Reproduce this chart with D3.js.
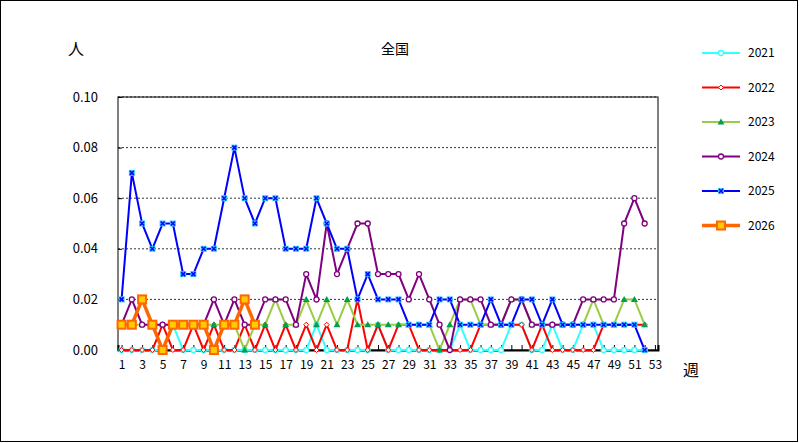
<!DOCTYPE html>
<html><head><meta charset="utf-8">
<script src="https://cdn.jsdelivr.net/npm/d3@7"></script>
<style>body{margin:0;background:#fff}text{font-family:"Noto Sans CJK JP",sans-serif;font-size:13px}</style>
</head><body><svg id="c" width="799" height="443"></svg>
<script>
var weeks = d3.range(1, 54);
var yTicks = [0, 0.02, 0.04, 0.06, 0.08, 0.10];
var s2021 = [0,0,0,0,0,0.01,0,0,0,0,0,0,0,0,0,0,0,0,0,0.01,0,0,0,0,0,0.01,0,0,0,0,0,0,0,0.01,0,0,0,0,0.01,0.01,0,0,0.01,0,0,0.01,0.01,0,0,0,0,0];
var s2022 = [0,0,0,0,0.01,0,0,0.01,0,0.01,0,0,0.01,0,0.01,0,0.01,0,0.01,0,0.01,0,0,0.02,0,0.01,0,0.01,0.01,0,0,0,0,0,0,0.01,0.01,0.01,0.01,0.01,0,0.01,0,0,0,0,0,0.01,0.01,0.01,0.01,0.01];
var s2023 = [0.01,0.01,0.01,0.01,0.01,0.01,0.01,0.01,0.01,0.01,0.01,0.01,0,0.01,0.01,0.02,0.01,0.01,0.02,0.01,0.02,0.01,0.02,0.01,0.01,0.01,0.01,0.01,0.01,0.01,0.01,0,0.01,0.02,0.02,0.01,0.01,0.01,0.02,0.02,0.01,0.01,0.01,0.01,0.01,0.01,0.02,0.01,0.01,0.02,0.02,0.01];
var s2024 = [0.01,0.02,0.01,0.01,0.01,0.01,0.01,0.01,0.01,0.02,0.01,0.02,0.01,0.01,0.02,0.02,0.02,0.01,0.03,0.02,0.05,0.03,0.04,0.05,0.05,0.03,0.03,0.03,0.02,0.03,0.02,0.01,0,0.02,0.02,0.02,0.01,0.01,0.02,0.02,0.01,0.01,0.01,0.01,0.01,0.02,0.02,0.02,0.02,0.05,0.06,0.05];
var s2025 = [0.02,0.07,0.05,0.04,0.05,0.05,0.03,0.03,0.04,0.04,0.06,0.08,0.06,0.05,0.06,0.06,0.04,0.04,0.04,0.06,0.05,0.04,0.04,0.02,0.03,0.02,0.02,0.02,0.01,0.01,0.01,0.02,0.02,0.01,0.01,0.01,0.02,0.01,0.01,0.02,0.02,0.01,0.02,0.01,0.01,0.01,0.01,0.01,0.01,0.01,0.01,0];
var s2026 = [0.01,0.01,0.02,0.01,0,0.01,0.01,0.01,0.01,0,0.01,0.01,0.02,0.01];
var series = [
  {name:"2021", v:s2021, c:"#33ffff", m:"circle", w:2},
  {name:"2022", v:s2022, c:"#ff0000", m:"diamond", w:2},
  {name:"2023", v:s2023, c:"#99cc44", m:"triangle", w:2},
  {name:"2024", v:s2024, c:"#800080", m:"circle", w:2},
  {name:"2025", v:s2025, c:"#0000ff", m:"cross", w:2},
  {name:"2026", v:s2026, c:"#ff6600", m:"square", w:3.5}
];

var svg = d3.select("#c");
svg.append("rect").attr("x",0.5).attr("y",0.5).attr("width",797).attr("height",441).attr("fill","#fff").attr("stroke","#000");
var x = d3.scaleLinear().domain([0.65, 53.3]).range([118, 658]);
var y = d3.scaleLinear().domain([0, 0.1]).range([350, 97]);

svg.append("g").selectAll("line").data(yTicks.slice(1)).join("line")
  .attr("x1",118).attr("x2",658).attr("y1",d=>y(d)).attr("y2",d=>y(d))
  .attr("stroke","#000").attr("stroke-dasharray","2,2").attr("stroke-width",0.8);
svg.append("rect").attr("x",118).attr("y",97).attr("width",540).attr("height",253).attr("fill","none").attr("stroke","#000");
svg.append("g").attr("transform","translate(118,0)")
  .call(d3.axisLeft(y).tickValues(yTicks).tickFormat(d3.format(".2f")).tickSize(-4))
  .call(g=>{g.select(".domain").remove();g.selectAll("text").attr("x",-20).style("font-size","13px");});
var xa = svg.append("g").attr("transform","translate(0,350)")
  .call(d3.axisBottom(x).tickValues(weeks).tickSize(-5).tickFormat(d=>d%2?d:""));
xa.select(".domain").attr("stroke-width",2);
xa.selectAll("text").attr("y",10).style("font-size","12px");

function marker(g, s, px, py) {
  if (s.m=="circle") g.append("circle").attr("cx",px).attr("cy",py).attr("r",2.5).attr("fill","#fff").attr("stroke",s.c).attr("stroke-width",1.3);
  else if (s.m=="diamond") g.append("path").attr("d",`M${px},${py-2.5}L${px+2.5},${py}L${px},${py+2.5}L${px-2.5},${py}Z`).attr("fill","#fff").attr("stroke",s.c);
  else if (s.m=="triangle") g.append("path").attr("d",`M${px},${py-3.5}L${px+3.5},${py+2.5}L${px-3.5},${py+2.5}Z`).attr("fill","#00a050");
  else if (s.m=="cross") { g.append("rect").attr("x",px-3).attr("y",py-3).attr("width",6).attr("height",6).attr("fill","#33ccff");
    g.append("path").attr("d",`M${px-2},${py-2}L${px+2},${py+2}M${px+2},${py-2}L${px-2},${py+2}`).attr("stroke","#0000ff").attr("stroke-width",1.5); }
  else g.append("rect").attr("x",px-4).attr("y",py-4).attr("width",8).attr("height",8).attr("fill","#ffcc00").attr("stroke",s.c).attr("stroke-width",2);
}
var line = d3.line().x((d,i)=>x(i+1)).y(d=>y(d));
series.forEach(function(s){
  var g = svg.append("g");
  g.append("path").attr("d",line(s.v)).attr("fill","none").attr("stroke",s.c).attr("stroke-width",s.w);
  s.v.forEach((d,i)=>marker(g,s,x(i+1),y(d)));
});

var lg = svg.append("g");
series.forEach(function(s,i){
  var ly = 53 + i*34.5;
  lg.append("line").attr("x1",702).attr("x2",740).attr("y1",ly).attr("y2",ly).attr("stroke",s.c).attr("stroke-width",s.w);
  marker(lg,s,721,ly);
  lg.append("text").attr("x",748).attr("y",ly+4).text(s.name).style("font-size","12px");
});
svg.append("text").attr("x",395).attr("y",54).attr("text-anchor","middle").text("全国").style("font-size","14px");
svg.append("text").attr("x",68).attr("y",55).text("人").style("font-size","16px");
svg.append("text").attr("x",683).attr("y",376).text("週").style("font-size","16px");
</script></body></html>
